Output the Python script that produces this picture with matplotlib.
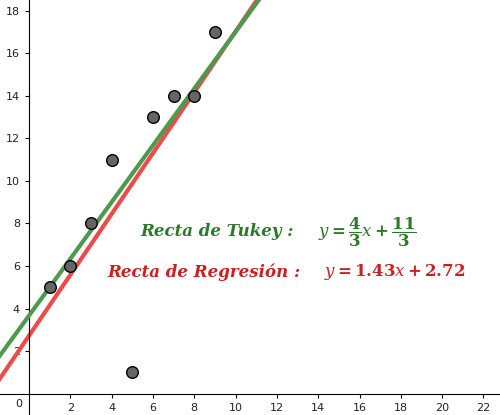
import numpy as np
import matplotlib.pyplot as plt

# data points
xs = [1, 2, 3, 4, 5, 6, 7, 8, 9]
ys = [5, 6, 8, 11, 1, 13, 14, 14, 17]

tukey_m, tukey_b = 4 / 3, 11 / 3
reg_m, reg_b = 1.43, 2.72

x_ticks = [2, 4, 6, 8, 10, 12, 14, 16, 18, 20, 22]
y_ticks = [2, 4, 6, 8, 10, 12, 14, 16, 18]

plt.rcParams['mathtext.fontset'] = 'dejavuserif'

fig = plt.figure(figsize=(5.0, 4.15), dpi=100)
ax = fig.add_axes([0, 0, 1, 1])
ax.set_xlim(-1.4, 22.8)
ax.set_ylim(-1.0, 18.5)

for s in ['top', 'right']:
    ax.spines[s].set_visible(False)
ax.spines['left'].set_position(('data', 0))
ax.spines['bottom'].set_position(('data', 0))
ax.set_xticks(x_ticks)
ax.set_yticks(y_ticks)
ax.tick_params(labelsize=8, length=3, color='black', labelcolor='#222222')
ax.text(-0.3, -0.25, '0', fontsize=8, ha='right', va='top', color='#222222')

xx = np.array([-1.5, 23])
ax.plot(xx, reg_m * xx + reg_b, color='#ef4a4a', lw=3, zorder=2)
ax.plot(xx, tukey_m * xx + tukey_b, color='#4d9a4d', lw=3, zorder=3)

ax.scatter(xs, ys, s=70, color='#666666', edgecolor='black', lw=1, zorder=4)

ax.text(5.4, 7.6, 'Recta de Tukey :', family='DejaVu Serif', style='italic',
        weight='bold', fontsize=12, color='#2a7a2a', va='center')
ax.text(14.0, 7.6, r'$\mathbf{\mathit{y} = \dfrac{4}{3}\mathit{x} + \dfrac{11}{3}}$',
        fontsize=12, color='#2a7a2a', va='center')
ax.text(3.8, 5.7, 'Recta de Regresión :', family='DejaVu Serif', style='italic',
        weight='bold', fontsize=12, color='#cc1f1f', va='center')
ax.text(14.3, 5.7, r'$\mathbf{\mathit{y} = 1.43\mathit{x} + 2.72}$', fontsize=12,
        color='#cc1f1f', va='center')

fig.savefig('out.png', dpi=100)
